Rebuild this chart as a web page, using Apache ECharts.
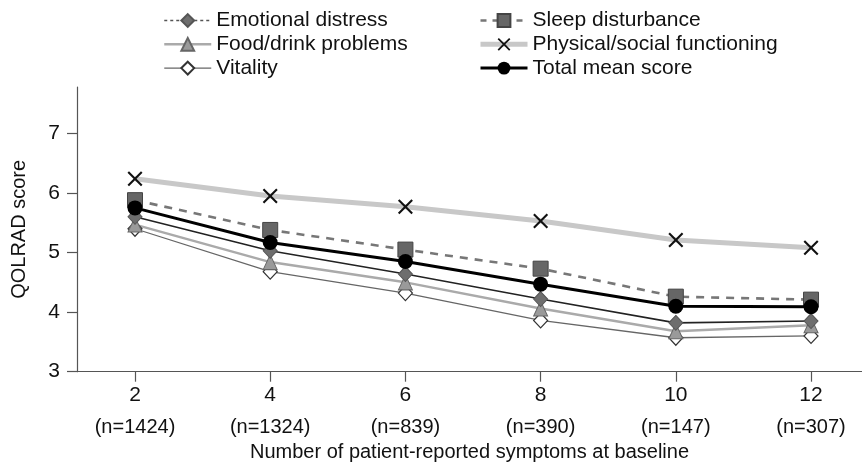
<!DOCTYPE html>
<html>
<head>
<meta charset="utf-8">
<script src="https://cdn.jsdelivr.net/npm/echarts@6/dist/echarts.min.js"></script>
<style>
html,body{margin:0;padding:0;background:#fff;}
#chart{width:862px;height:465px;}
</style>
</head>
<body>
<div id="chart"></div>
<script>
var xValues = [2, 4, 6, 8, 10, 12];
var nLabels = ['(n=1424)', '(n=1324)', '(n=839)', '(n=390)', '(n=147)', '(n=307)'];
var yTicks = [3, 4, 5, 6, 7];

var emotional = [5.60, 5.03, 4.64, 4.22, 3.82, 3.85];
var sleep = [5.88, 5.38, 5.05, 4.73, 4.26, 4.21];
var food = [5.47, 4.84, 4.50, 4.06, 3.68, 3.78];
var physical = [6.24, 5.95, 5.77, 5.53, 5.21, 5.08];
var vitality = [5.40, 4.68, 4.32, 3.86, 3.57, 3.60];
var total = [5.75, 5.17, 4.85, 4.47, 4.10, 4.09];

function pairs(arr) { return xValues.map(function (x, i) { return [x, arr[i]]; }); }

var X_PATH = 'path://M0,1L1,0L5,4L9,0L10,1L6,5L10,9L9,10L5,6L1,10L0,9L4,5Z';
var FONT = 'Liberation Sans, Arial, sans-serif';

var chart = echarts.init(document.getElementById('chart'), null, {renderer: 'canvas'});
var legendText = {fontFamily: FONT, fontSize: 21, color: '#111', lineHeight: 21};

chart.setOption({
  animation: false,
  backgroundColor: '#fff',
  grid: {left: 77, right: 0, top: 87, bottom: 93.3, containLabel: false, outerBoundsMode: 'none'},
  legend: [{
    orient: 'vertical', left: 158, top: 5, itemWidth: 47, itemHeight: 16, itemGap: 2.8,
    textStyle: legendText, selectedMode: false,
    data: [
      {name: 'Emotional distress', lineStyle: {type: [3, 3], color: '#555', width: 1.5}},
      {name: 'Food/drink problems', lineStyle: {color: '#aaa', width: 2.5}},
      {name: 'Vitality', lineStyle: {color: '#666', width: 1.3}}
    ]
  }, {
    orient: 'vertical', left: 473, top: 5, itemWidth: 47, itemHeight: 16, itemGap: 2.8,
    textStyle: legendText, selectedMode: false,
    data: [
      {name: 'Sleep disturbance', lineStyle: {type: [6, 6], color: '#777', width: 2.6}},
      {name: 'Physical/social functioning', lineStyle: {color: '#c8c8c8', width: 5}},
      {name: 'Total mean score', lineStyle: {color: '#000', width: 3}}
    ]
  }],
  xAxis: {
    type: 'value', min: 1.142, max: 12.754,
    splitLine: {show: false},
    axisLine: {lineStyle: {color: '#555', width: 1.2}},
    axisTick: {show: true, length: 10, customValues: xValues, lineStyle: {color: '#555', width: 1.2}},
    axisLabel: {
      customValues: xValues, margin: 8,
      formatter: function (v) {
        var i = xValues.indexOf(v);
        return '{a|' + v + '}\n{b|' + nLabels[i] + '}';
      },
      rich: {
        a: {fontFamily: FONT, fontSize: 21, color: '#111', lineHeight: 32},
        b: {fontFamily: FONT, fontSize: 20, color: '#111', lineHeight: 32}
      }
    },
    name: 'Number of patient-reported symptoms at baseline',
    nameLocation: 'middle', nameGap: 68,
    nameTextStyle: {fontFamily: FONT, fontSize: 20, color: '#111'}
  },
  yAxis: {
    type: 'value', min: 3, max: 7.78,
    splitLine: {show: false},
    axisLine: {show: true, lineStyle: {color: '#555', width: 1.2}},
    axisTick: {show: true, length: 10, customValues: yTicks, lineStyle: {color: '#555', width: 1.2}},
    axisLabel: {customValues: yTicks, margin: 17, fontFamily: FONT, fontSize: 21, color: '#111'},
    name: 'QOLRAD score', nameLocation: 'middle', nameGap: 48, nameRotate: 90,
    nameTextStyle: {fontFamily: FONT, fontSize: 20, color: '#111'}
  },
  series: [
    {
      name: 'Physical/social functioning', type: 'line', data: pairs(physical), z: 2,
      lineStyle: {color: '#c8c8c8', width: 5},
      symbol: X_PATH, symbolSize: 15,
      itemStyle: {color: '#111', borderWidth: 0}
    },
    {
      name: 'Vitality', type: 'line', data: pairs(vitality), z: 3,
      lineStyle: {color: '#666', width: 1.3},
      symbol: 'diamond', symbolSize: [14, 15],
      itemStyle: {color: '#fff', borderColor: '#333', borderWidth: 1.2}
    },
    {
      name: 'Food/drink problems', type: 'line', data: pairs(food), z: 3,
      lineStyle: {color: '#aaa', width: 2.5},
      symbol: 'triangle', symbolSize: [14, 15],
      itemStyle: {color: '#9a9a9a', borderColor: '#666', borderWidth: 1}
    },
    {
      name: 'Emotional distress', type: 'line', data: pairs(emotional), z: 4,
      lineStyle: {color: '#222', width: 1.6},
      symbol: 'diamond', symbolSize: [14, 15],
      itemStyle: {color: '#6e6e6e', borderColor: '#555', borderWidth: 1}
    },
    {
      name: 'Sleep disturbance', type: 'line', data: pairs(sleep), z: 4,
      lineStyle: {color: '#777', width: 2.6, type: [8, 7]},
      symbol: 'rect', symbolSize: 15,
      itemStyle: {color: '#666', borderColor: '#444', borderWidth: 1}
    },
    {
      name: 'Total mean score', type: 'line', data: pairs(total), z: 5,
      lineStyle: {color: '#000', width: 3},
      symbol: 'circle', symbolSize: 15,
      itemStyle: {color: '#000'}
    }
  ]
});
</script>
</body>
</html>
